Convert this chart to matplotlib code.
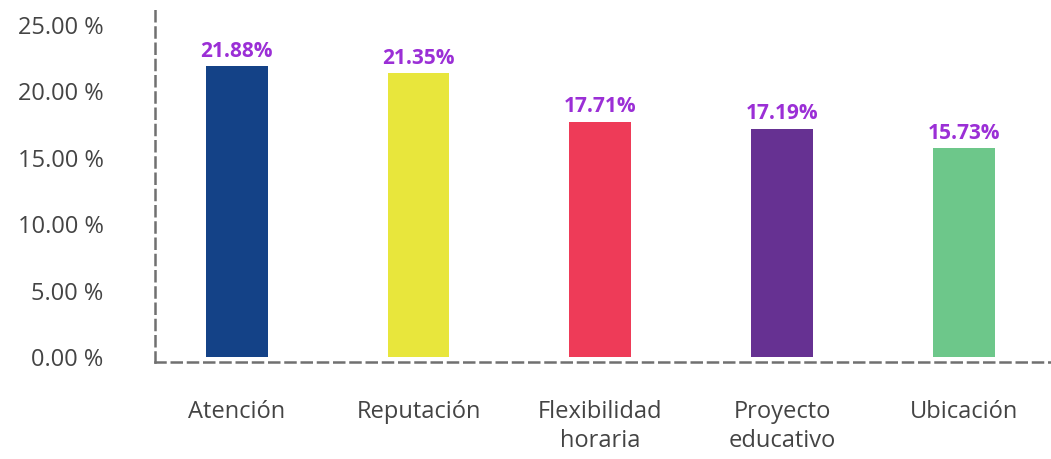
import matplotlib.pyplot as plt

# Datos
categorias = ['Atención', 'Reputación', 'Flexibilidad\nhoraria', 'Proyecto\neducativo', 'Ubicación']
porcentajes = [21.88, 21.35, 17.71, 17.19, 15.73]
colores = ['#144287', '#E8E63C', '#EE3B58', '#663192', '#6DC78A']
ticks_y = [0, 5, 10, 15, 20, 25]

plt.rcParams['font.family'] = ['Open Sans', 'DejaVu Sans']

fig = plt.figure(figsize=(10.51, 4.59), dpi=100)
ax = fig.add_axes([0.1475, 0.2113, 0.8525, 0.7667])

x = list(range(len(categorias)))
ax.bar(x, porcentajes, width=0.34, color=colores)

# Etiquetas de valor
for xi, v in zip(x, porcentajes):
    ax.annotate(f'{v:.2f}%', (xi, v), xytext=(0, 3), textcoords='offset points',
                ha='center', va='bottom', color='#9B2FD6', fontsize=15, fontweight='bold')

ax.set_xlim(-0.45, 4.48)
ax.set_ylim(-0.38, 26.1)
ax.set_xticks(x)
ax.set_xticklabels(categorias, fontsize=17, color='#444444', linespacing=1.3)
ax.set_yticks(ticks_y)
ax.set_yticklabels([f'{t:.2f} %' for t in ticks_y], fontsize=17, color='#444444')
ax.tick_params(axis='both', length=0)
ax.tick_params(axis='y', pad=37)
ax.tick_params(axis='x', pad=27)

for lado in ['top', 'right']:
    ax.spines[lado].set_visible(False)
for lado in ['left', 'bottom']:
    ax.spines[lado].set_color('#707070')
    ax.spines[lado].set_linewidth(1.8)
    ax.spines[lado].set_linestyle((0, (4, 2.5)))

fig.savefig('out.png', dpi=100)
